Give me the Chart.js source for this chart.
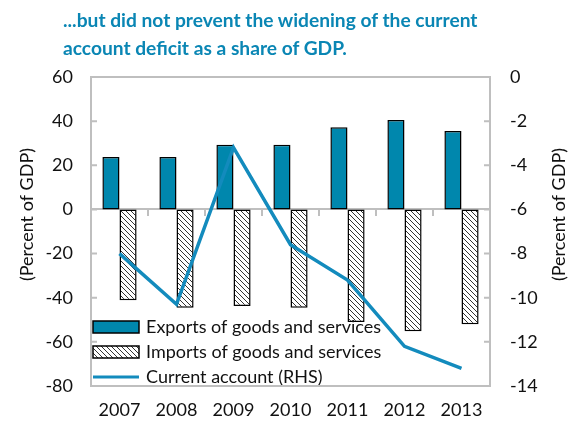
<!DOCTYPE html>
<html>
<head>
<meta charset="utf-8">
<script src="https://cdn.jsdelivr.net/npm/chart.js@4.4.0/dist/chart.umd.min.js"></script>
<style>
  body { margin: 0; background: #fff; }
  #wrap { position: relative; width: 573px; height: 434px; }
  #title {
    position: absolute; left: 63px; top: 6px;
    font: bold 19.2px Lato, sans-serif; line-height: 28px; color: #0a86b4;
  }
</style>
</head>
<body>
<div id="wrap">
  <canvas id="chart" width="573" height="434"></canvas>
  <div id="title">...but did not prevent the widening of the current<br>account deficit as a share of GDP.</div>
</div>
<script>
// data
const years = ['2007', '2008', '2009', '2010', '2011', '2012', '2013'];
const exportsGdp = [23.8, 23.8, 29.3, 29.3, 37.2, 40.5, 35.5];
const importsGdp = [-41.2, -44.5, -43.8, -44.5, -51.0, -55.2, -52.0];
const currentAccount = [-8.0, -10.3, -3.2, -7.6, -9.2, -12.2, -13.2];
const leftTicks = [-80, -60, -40, -20, 0, 20, 40, 60];
const rightTicks = [-14, -12, -10, -8, -6, -4, -2, 0];
const axisTitle = '(Percent of GDP)';

const BLUE = '#0087ad';
const LINE = '#138bbd';
const GREY = '#bfbfbf';
const font = { family: 'Lato', size: 18 };

function hatch() {
  const c = document.createElement('canvas');
  c.width = c.height = 5;
  const g = c.getContext('2d');
  g.fillStyle = '#fff';
  g.fillRect(0, 0, 5, 5);
  g.strokeStyle = '#333';
  g.lineWidth = 1;
  g.beginPath();
  g.moveTo(-1, -1); g.lineTo(6, 6);
  g.moveTo(-1, 4); g.lineTo(1, 6);
  g.moveTo(4, -1); g.lineTo(6, 1);
  g.stroke();
  return g.createPattern(c, 'repeat');
}

// frame, inward tick marks and both axis titles (both read bottom-to-top)
const framePlugin = {
  id: 'frame',
  afterDraw(chart) {
    const {ctx, chartArea: a, scales} = chart;
    ctx.save();
    ctx.strokeStyle = GREY;
    ctx.lineWidth = 2;
    ctx.strokeRect(a.left, a.top, a.right - a.left, a.bottom - a.top);
    ctx.beginPath();
    scales.y.ticks.forEach((t, i) => {
      const p = scales.y.getPixelForTick(i);
      ctx.moveTo(a.left, p); ctx.lineTo(a.left + 6, p);
    });
    scales.y1.ticks.forEach((t, i) => {
      const p = scales.y1.getPixelForTick(i);
      ctx.moveTo(a.right - 6, p); ctx.lineTo(a.right, p);
    });
    ctx.stroke();

    ctx.fillStyle = '#111';
    ctx.font = '18px Lato';
    ctx.textAlign = 'center';
    ctx.textBaseline = 'middle';
    const midY = (a.top + a.bottom) / 2 - 17;
    [scales.y.left + 27, scales.y1.right - 14].forEach(x => {
      ctx.save();
      ctx.translate(x, midY);
      ctx.rotate(-Math.PI / 2);
      ctx.fillText(axisTitle, 0, 0);
      ctx.restore();
    });
    ctx.restore();
  }
};

// legend inside the plot, bottom-left
const legendPlugin = {
  id: 'innerLegend',
  afterDatasetsDraw(chart) {
    const {ctx, chartArea: a} = chart;
    const ds = chart.data.datasets;
    const order = [1, 2, 0];
    ctx.save();
    ctx.font = '18px Lato';
    ctx.textBaseline = 'middle';
    order.forEach((k, i) => {
      const d = ds[k];
      const y = a.bottom - 59 + i * 25;
      const x = a.left + 2;
      if (d.type === 'line') {
        ctx.strokeStyle = d.borderColor;
        ctx.lineWidth = 3;
        ctx.beginPath();
        ctx.moveTo(x, y); ctx.lineTo(x + 46, y);
        ctx.stroke();
      } else {
        ctx.fillStyle = d.backgroundColor;
        ctx.fillRect(x, y - 6, 46, 12);
        ctx.strokeStyle = '#000';
        ctx.lineWidth = 1.5;
        ctx.strokeRect(x, y - 6, 46, 12);
      }
      ctx.fillStyle = '#111';
      ctx.fillText(d.label, x + 53, y);
    });
    ctx.restore();
  }
};

new Chart(document.getElementById('chart'), {
  data: {
    labels: years,
    datasets: [
      {
        type: 'line', label: 'Current account (RHS)', data: currentAccount,
        yAxisID: 'y1', xAxisID: 'x', borderColor: LINE, borderWidth: 3.5,
        pointRadius: 0, tension: 0, order: 0
      },
      {
        type: 'bar', label: 'Exports of goods and services', data: exportsGdp,
        yAxisID: 'y', xAxisID: 'x', backgroundColor: BLUE, borderColor: '#000',
        borderWidth: 1.5, borderSkipped: false,
        categoryPercentage: 0.6, barPercentage: 1, order: 1
      },
      {
        type: 'bar', label: 'Imports of goods and services', data: importsGdp,
        yAxisID: 'y', xAxisID: 'x', backgroundColor: hatch(), borderColor: '#000',
        borderWidth: 1.5, borderSkipped: false,
        categoryPercentage: 0.6, barPercentage: 1, order: 1
      }
    ]
  },
  options: {
    responsive: false,
    animation: false,
    devicePixelRatio: 1,
    layout: { padding: { top: 77, left: 0, right: 0, bottom: 0 } },
    plugins: { legend: { display: false }, tooltip: { enabled: false } },
    scales: {
      x: {
        type: 'category', position: 'bottom', offset: true,
        afterFit: s => { s.height = 48; },
        grid: { display: false, drawTicks: false },
        border: { display: false },
        ticks: { font, color: '#111', padding: 13 }
      },
      x2: {
        type: 'category', labels: years, offset: true,
        position: { y: 0 },
        afterFit: s => { s.height = 0; },
        grid: { offset: true, drawOnChartArea: false, drawTicks: true, tickLength: 6, color: GREY, lineWidth: 2 },
        border: { display: true, color: GREY, width: 2 },
        ticks: { display: false }
      },
      y: {
        position: 'left', min: -80, max: 60,
        afterBuildTicks: s => { s.ticks = leftTicks.map(v => ({ value: v })); },
        afterFit: s => { s.width = 91; },
        grid: { display: false, drawTicks: false },
        border: { display: false },
        ticks: { font, color: '#111', padding: 18 }
      },
      y1: {
        position: 'right', min: -14, max: 0,
        afterBuildTicks: s => { s.ticks = rightTicks.map(v => ({ value: v })); },
        afterFit: s => { s.width = 83; },
        grid: { display: false, drawTicks: false },
        border: { display: false },
        ticks: { font, color: '#111', padding: 20 }
      }
    }
  },
  plugins: [framePlugin, legendPlugin]
});
</script>
</body>
</html>
